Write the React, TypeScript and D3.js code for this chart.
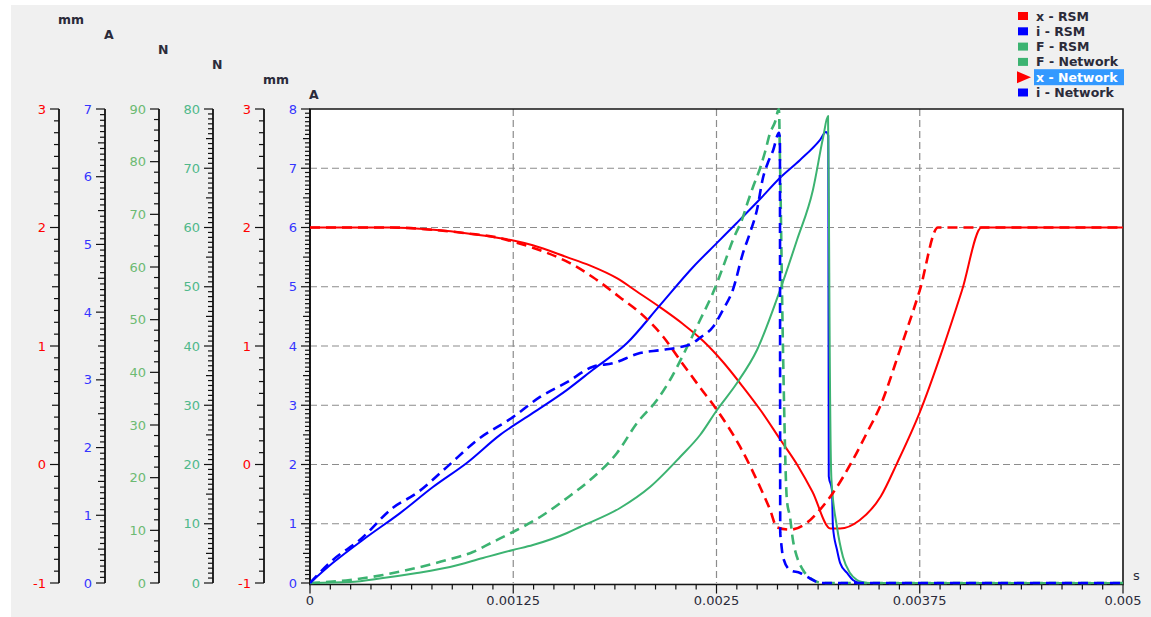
import { useEffect, useRef } from 'react';
import * as d3 from 'd3';

const WIDTH = 1151;
const HEIGHT = 617;

// time axis (s)
const timeTicks = [0, 0.00125, 0.0025, 0.00375, 0.005];
const timeTickLabels = ['0', '0.00125', '0.0025', '0.00375', '0.005'];

// x - RSM : armature position (mm)
const xRsmTime = [0, 0.0005, 0.00076, 0.00097, 0.00117, 0.00125, 0.00137, 0.00158, 0.00172, 0.00189, 0.00201, 0.00215, 0.00229, 0.00242, 0.00254, 0.00266, 0.00277, 0.00289, 0.003, 0.00309, 0.0032, 0.00326, 0.00338, 0.00351, 0.00361, 0.00375, 0.00389, 0.00401, 0.00413, 0.005];
const xRsmMm = [2, 2, 1.98, 1.95, 1.91, 1.89, 1.85, 1.75, 1.68, 1.57, 1.46, 1.33, 1.19, 1.04, 0.865, 0.66, 0.46, 0.215, -0.01, -0.23, -0.54, -0.54, -0.47, -0.27, 0.01, 0.44, 0.97, 1.47, 2, 2];

// i - RSM : coil current (A)
const iRsmTime = [0, 0.000141, 0.000351, 0.000554, 0.000756, 0.000966, 0.001169, 0.001371, 0.001581, 0.00174, 0.00195, 0.002153, 0.002355, 0.002503, 0.002626, 0.002768, 0.002891, 0.003014, 0.003137, 0.003173, 0.0031875, 0.003189, 0.0031905, 0.00321, 0.003216, 0.003241, 0.00326, 0.003303, 0.003339, 0.003383, 0.005];
const iRsmA = [0, 0.34, 0.78, 1.18, 1.62, 2.03, 2.5, 2.87, 3.26, 3.6, 4.05, 4.69, 5.33, 5.74, 6.08, 6.48, 6.84, 7.14, 7.48, 7.61, 7.55, 4.5, 1.8, 1.57, 0.95, 0.56, 0.34, 0.17, 0.05, 0, 0];

// F - RSM : magnetic force (N)
const fRsmTime = [0, 0.000246, 0.000449, 0.000658, 0.000861, 0.001064, 0.001248, 0.001371, 0.001581, 0.00166, 0.001907, 0.002091, 0.002276, 0.002399, 0.002503, 0.002626, 0.002749, 0.002891, 0.002995, 0.003093, 0.003155, 0.003186, 0.003192, 0.003195, 0.003207, 0.003241, 0.003278, 0.003321, 0.003364, 0.003395, 0.00344, 0.005];
const fRsmN = [0, 0.17, 0.84, 1.69, 2.7, 4.22, 5.57, 6.41, 8.44, 9.45, 12.66, 16.2, 21.27, 24.98, 29.2, 33.76, 39.33, 49.45, 57.89, 66.33, 75.1, 78.8, 60, 45, 17.4, 9.45, 4.39, 1.69, 0.51, 0.17, 0, 0];

// F - Network (N)
const fNetTime = [0, 0.000246, 0.000449, 0.000597, 0.000843, 0.001002, 0.001125, 0.001248, 0.001415, 0.001581, 0.001722, 0.001888, 0.002011, 0.002134, 0.002214, 0.002319, 0.002399, 0.002478, 0.00254, 0.002601, 0.002663, 0.00269, 0.002724, 0.002768, 0.002798, 0.002829, 0.00286, 0.002884, 0.00289, 0.002909, 0.002933, 0.002952, 0.00297, 0.002995, 0.003032, 0.003093, 0.003155, 0.005];
const fNetN = [0, 0.51, 1.35, 2.19, 3.88, 5.23, 6.92, 8.61, 11.14, 14.35, 17.38, 21.94, 27, 30.89, 34.26, 39.83, 44.39, 48.95, 53.33, 57.89, 61.8, 64.1, 66.8, 70, 72.7, 75.9, 77.8, 80, 72, 39.3, 14, 11.14, 7.26, 4.39, 2.19, 0.51, 0, 0];

// x - Network (mm)
const xNetTime = [0, 0.0005, 0.00076, 0.00097, 0.00117, 0.00125, 0.00137, 0.001538, 0.001599, 0.00174, 0.001907, 0.00203, 0.002171, 0.002276, 0.002399, 0.002503, 0.002645, 0.002768, 0.002829, 0.002872, 0.002952, 0.003057, 0.003137, 0.003216, 0.003339, 0.003426, 0.003506, 0.003629, 0.00375, 0.003862, 0.005];
const xNetMm = [2, 2, 1.98, 1.95, 1.91, 1.88, 1.83, 1.74, 1.7, 1.58, 1.41, 1.28, 1.08, 0.88, 0.65, 0.46, 0.15, -0.19, -0.38, -0.53, -0.55, -0.49, -0.38, -0.24, 0.04, 0.27, 0.49, 0.97, 1.47, 2, 2];

// i - Network (A)
const iNetTime = [0, 0.000141, 0.000308, 0.00051, 0.000658, 0.000843, 0.001027, 0.001248, 0.001415, 0.001581, 0.00174, 0.001863, 0.00203, 0.002153, 0.002276, 0.002355, 0.002399, 0.002478, 0.00254, 0.002601, 0.002663, 0.002706, 0.002749, 0.002786, 0.002817, 0.002848, 0.002884, 0.00289, 0.002892, 0.002897, 0.002909, 0.002952, 0.003014, 0.003093, 0.003137, 0.005];
const iNetA = [0, 0.39, 0.73, 1.27, 1.52, 1.96, 2.41, 2.8, 3.14, 3.39, 3.65, 3.71, 3.88, 3.93, 3.98, 4.05, 4.14, 4.32, 4.61, 4.95, 5.57, 5.91, 6.3, 6.84, 7.1, 7.3, 7.6, 7.5, 0.85, 0.7, 0.44, 0.22, 0.17, 0.05, 0, 0];

const legendLabels = ['x - RSM', 'i - RSM', 'F - RSM', 'F - Network', 'x - Network', 'i - Network'];

const RED = '#ff0000';
const BLUE = '#0000ff';
const GREEN = '#3cb371';
const FONT = 'DejaVu Sans, Verdana, sans-serif';

export default function App() {
    const svgRef = useRef<SVGSVGElement | null>(null);

    useEffect(() => {
        const svg = d3.select(svgRef.current);
        svg.selectAll('*').remove();

        const plot = { left: 310, right: 1123, top: 109, bottom: 583 };

        // panel background
        svg.append('rect')
            .attr('x', 11).attr('y', 5)
            .attr('width', WIDTH - 11).attr('height', HEIGHT - 5)
            .attr('fill', '#f0f0f0');

        const xScale = d3.scaleLinear().domain([0, 0.005]).range([plot.left, plot.right]);
        const mmScale = d3.scaleLinear().domain([-1, 3]).range([plot.bottom, plot.top]);
        const ampScale = d3.scaleLinear().domain([0, 8]).range([plot.bottom, plot.top]);
        const forceScale = d3.scaleLinear().domain([0, 80]).range([plot.bottom, plot.top]);

        // plot area
        svg.append('rect')
            .attr('x', plot.left).attr('y', plot.top)
            .attr('width', plot.right - plot.left).attr('height', plot.bottom - plot.top)
            .attr('fill', '#ffffff');

        // dashed grid
        const grid = svg.append('g')
            .attr('stroke', '#8c8c8c')
            .attr('stroke-width', 1.2)
            .attr('stroke-dasharray', '7,4');
        d3.range(1, 8).forEach(v => {
            grid.append('line')
                .attr('x1', plot.left).attr('x2', plot.right)
                .attr('y1', ampScale(v)).attr('y2', ampScale(v));
        });
        timeTicks.slice(1, -1).forEach(t => {
            grid.append('line')
                .attr('x1', xScale(t)).attr('x2', xScale(t))
                .attr('y1', plot.top).attr('y2', plot.bottom);
        });

        // frame
        svg.append('path')
            .attr('d', `M${plot.left},${plot.top}H${plot.right}V${plot.bottom + 1.5}H${plot.left}Z`)
            .attr('fill', 'none')
            .attr('stroke', '#151515')
            .attr('stroke-width', 1.6);

        // left value axes
        const leftAxes = [
            { unit: 'mm', domain: [-1, 3], major: 1, minor: 10, color: RED, x: 59 },
            { unit: 'A', domain: [0, 7], major: 1, minor: 12, color: '#3535ff', x: 105 },
            { unit: 'N', domain: [0, 90], major: 10, minor: 5, color: '#6cba72', x: 159 },
            { unit: 'N', domain: [0, 80], major: 10, minor: 12, color: '#4fb88a', x: 213 },
            { unit: 'mm', domain: [-1, 3], major: 1, minor: 10, color: RED, x: 264 },
            { unit: 'A', domain: [0, 8], major: 1, minor: 14, color: '#3535ff', x: 310 },
        ];

        leftAxes.forEach((ax, idx) => {
            const y = d3.scaleLinear().domain(ax.domain).range([plot.bottom, plot.top]);
            const g = svg.append('g');
            const n = Math.round((ax.domain[1] - ax.domain[0]) / ax.major) * ax.minor;
            d3.range(0, n + 1).forEach(k => {
                const v = ax.domain[0] + (k * ax.major) / ax.minor;
                const isMajor = k % ax.minor === 0;
                const isMedium = !isMajor && ax.minor % 2 === 0 && k % (ax.minor / 2) === 0;
                const len = isMajor ? 9 : isMedium ? 7 : 5;
                g.append('line')
                    .attr('x1', ax.x - len).attr('x2', ax.x)
                    .attr('y1', y(v)).attr('y2', y(v))
                    .attr('stroke', '#111')
                    .attr('stroke-width', 1.2);
                if (isMajor) {
                    g.append('text')
                        .attr('x', ax.x - 13)
                        .attr('y', y(v))
                        .attr('text-anchor', 'end')
                        .attr('dominant-baseline', 'central')
                        .style('font-family', FONT)
                        .style('font-size', '13px')
                        .style('fill', ax.color)
                        .text(String(Math.round(v)));
                }
            });
            g.append('line')
                .attr('x1', ax.x).attr('x2', ax.x)
                .attr('y1', plot.top).attr('y2', plot.bottom + (idx === 5 ? 2 : 0))
                .attr('stroke', '#111')
                .attr('stroke-width', 1.8);
            svg.append('text')
                .attr('x', ax.x - 1)
                .attr('y', 19 + idx * 15)
                .attr('dominant-baseline', 'central')
                .style('font-family', FONT)
                .style('font-size', '12.5px')
                .style('font-weight', 'bold')
                .style('fill', '#2b2b3a')
                .text(ax.unit);
        });

        // time axis
        const xAxis = svg.append('g');
        d3.range(0, 41).forEach(k => {
            const t = (k * 0.005) / 40;
            const isMajor = k % 10 === 0;
            xAxis.append('line')
                .attr('x1', xScale(t)).attr('x2', xScale(t))
                .attr('y1', plot.bottom + 1.5).attr('y2', plot.bottom + 1.5 + (isMajor ? 9 : 5))
                .attr('stroke', '#111')
                .attr('stroke-width', 1.2);
        });
        timeTicks.forEach((t, i) => {
            xAxis.append('text')
                .attr('x', xScale(t))
                .attr('y', 600)
                .attr('text-anchor', 'middle')
                .attr('dominant-baseline', 'central')
                .style('font-family', FONT)
                .style('font-size', '13px')
                .style('fill', '#2b2b3a')
                .text(timeTickLabels[i]);
        });
        svg.append('text')
            .attr('x', 1133).attr('y', 575)
            .attr('dominant-baseline', 'central')
            .style('font-family', FONT)
            .style('font-size', '13px')
            .style('fill', '#2b2b3a')
            .text('s');

        // series
        const series = [
            { time: xRsmTime, values: xRsmMm, scale: mmScale, color: RED, dashed: false },
            { time: iRsmTime, values: iRsmA, scale: ampScale, color: BLUE, dashed: false },
            { time: fRsmTime, values: fRsmN, scale: forceScale, color: GREEN, dashed: false },
            { time: fNetTime, values: fNetN, scale: forceScale, color: GREEN, dashed: true },
            { time: xNetTime, values: xNetMm, scale: mmScale, color: RED, dashed: true },
            { time: iNetTime, values: iNetA, scale: ampScale, color: BLUE, dashed: true },
        ];

        svg.append('clipPath').attr('id', 'plot-clip')
            .append('rect')
            .attr('x', plot.left).attr('y', plot.top - 1)
            .attr('width', plot.right - plot.left).attr('height', plot.bottom - plot.top + 3);

        const lines = svg.append('g').attr('clip-path', 'url(#plot-clip)');
        series.forEach(s => {
            const pts = s.time.map((t, i) => [t, s.values[i]] as [number, number]);
            const line = d3.line<[number, number]>()
                .x(d => xScale(d[0]))
                .y(d => s.scale(d[1]))
                .curve(d3.curveMonotoneX);
            lines.append('path')
                .attr('d', line(pts))
                .attr('fill', 'none')
                .attr('stroke', s.color)
                .attr('stroke-width', s.dashed ? 2.6 : 2)
                .attr('stroke-linejoin', 'round')
                .attr('stroke-dasharray', s.dashed ? '10,6' : null);
        });

        // legend
        const legendColors = [RED, BLUE, GREEN, GREEN, RED, BLUE];
        const legend = svg.append('g').attr('transform', 'translate(1017, 16)');
        legendLabels.forEach((label, i) => {
            const row = legend.append('g').attr('transform', `translate(0, ${i * 15.3})`);
            const selected = label === 'x - Network';
            if (selected) {
                row.append('rect')
                    .attr('x', 17).attr('y', -8)
                    .attr('width', 90).attr('height', 16)
                    .attr('fill', '#3399ff');
                row.append('path')
                    .attr('d', 'M0,-6L14,0L0,6Z')
                    .attr('fill', legendColors[i]);
            } else {
                row.append('rect')
                    .attr('x', 1).attr('y', -4)
                    .attr('width', 10).attr('height', 8)
                    .attr('fill', legendColors[i]);
            }
            row.append('text')
                .attr('x', 19)
                .attr('y', 0)
                .attr('dominant-baseline', 'central')
                .style('font-family', FONT)
                .style('font-size', '12.5px')
                .style('font-weight', 'bold')
                .style('fill', selected ? '#ffffff' : '#2b2b3a')
                .text(label);
        });
    }, []);

    return (
        <svg
            ref={svgRef}
            width={WIDTH}
            height={HEIGHT}
            style={{ position: 'absolute', left: 0, top: 0, background: '#ffffff' }}
        />
    );
}
